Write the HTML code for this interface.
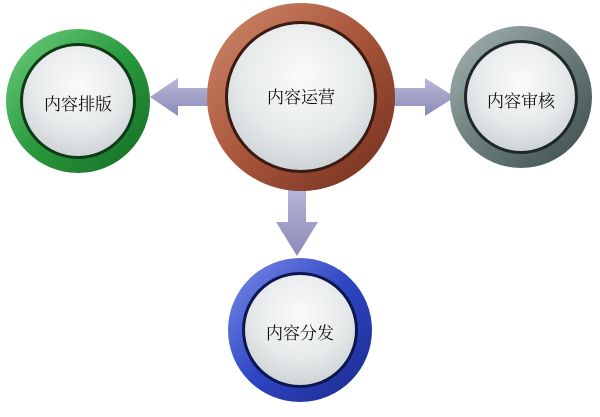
<!DOCTYPE html>
<html><head><meta charset="utf-8"><style>
body{margin:0;width:600px;height:412px;background:#fff;overflow:hidden}
</style></head><body>
<svg width="600" height="412" xmlns="http://www.w3.org/2000/svg">
<defs>
<radialGradient id="inner" cx="0.5" cy="0.35" r="0.7">
<stop offset="0" stop-color="#fafbfb"/><stop offset="0.6" stop-color="#e6e9ea"/><stop offset="1" stop-color="#c9cfd2"/>
</radialGradient>
<linearGradient id="red" x1="0" y1="0" x2="1" y2="1"><stop offset="0" stop-color="#d08a6c"/><stop offset="0.5" stop-color="#a8553a"/><stop offset="1" stop-color="#6e2e1e"/></linearGradient>
<linearGradient id="green" x1="0" y1="0" x2="1" y2="1"><stop offset="0" stop-color="#6fcf80"/><stop offset="0.5" stop-color="#2a9a3e"/><stop offset="1" stop-color="#146a24"/></linearGradient>
<linearGradient id="grey" x1="0" y1="0" x2="1" y2="1"><stop offset="0" stop-color="#a8b6b4"/><stop offset="0.5" stop-color="#6a7d7b"/><stop offset="1" stop-color="#3c4b4a"/></linearGradient>
<linearGradient id="blue" x1="0" y1="0" x2="1" y2="1"><stop offset="0" stop-color="#7d8ee8"/><stop offset="0.5" stop-color="#2f46c4"/><stop offset="1" stop-color="#1a2a8a"/></linearGradient>
<linearGradient id="arr" x1="0" y1="0" x2="0" y2="1"><stop offset="0" stop-color="#b9b9d9"/><stop offset="1" stop-color="#8a8ab8"/></linearGradient>
</defs>
<polygon points="215,88 178,88 178,78 150,97 178,116 178,106 215,106" fill="url(#arr)"/>
<polygon points="388,88 425,88 425,78 455,97 425,116 425,106 388,106" fill="url(#arr)"/>
<polygon points="288,185 288,222 276,222 297,256 318,222 306,222 306,185" fill="url(#arr)"/>
<g>
<circle cx="301" cy="97" r="94" fill="url(#red)"/>
<circle cx="301" cy="97" r="76" fill="#3a1a12"/>
<circle cx="301" cy="97" r="73" fill="url(#inner)"/>
</g>
<g>
<circle cx="78" cy="101" r="72" fill="url(#green)"/>
<circle cx="78" cy="101" r="58" fill="#0f3a18"/>
<circle cx="78" cy="101" r="55" fill="url(#inner)"/>
</g>
<g>
<circle cx="521" cy="97" r="71" fill="url(#grey)"/>
<circle cx="521" cy="97" r="57" fill="#1f2828"/>
<circle cx="521" cy="97" r="54" fill="url(#inner)"/>
</g>
<g>
<circle cx="300" cy="330" r="72" fill="url(#blue)"/>
<circle cx="300" cy="330" r="58" fill="#0e1650"/>
<circle cx="300" cy="330" r="55" fill="url(#inner)"/>
</g>
<g font-family="'Liberation Serif','Noto Serif CJK SC',serif" font-size="17" fill="#111" text-anchor="middle">
<text x="301" y="103">内容运营</text>
<text x="78" y="110">内容排版</text>
<text x="521" y="107">内容审核</text>
<text x="300" y="339">内容分发</text>
</g>
</svg>
</body></html>
